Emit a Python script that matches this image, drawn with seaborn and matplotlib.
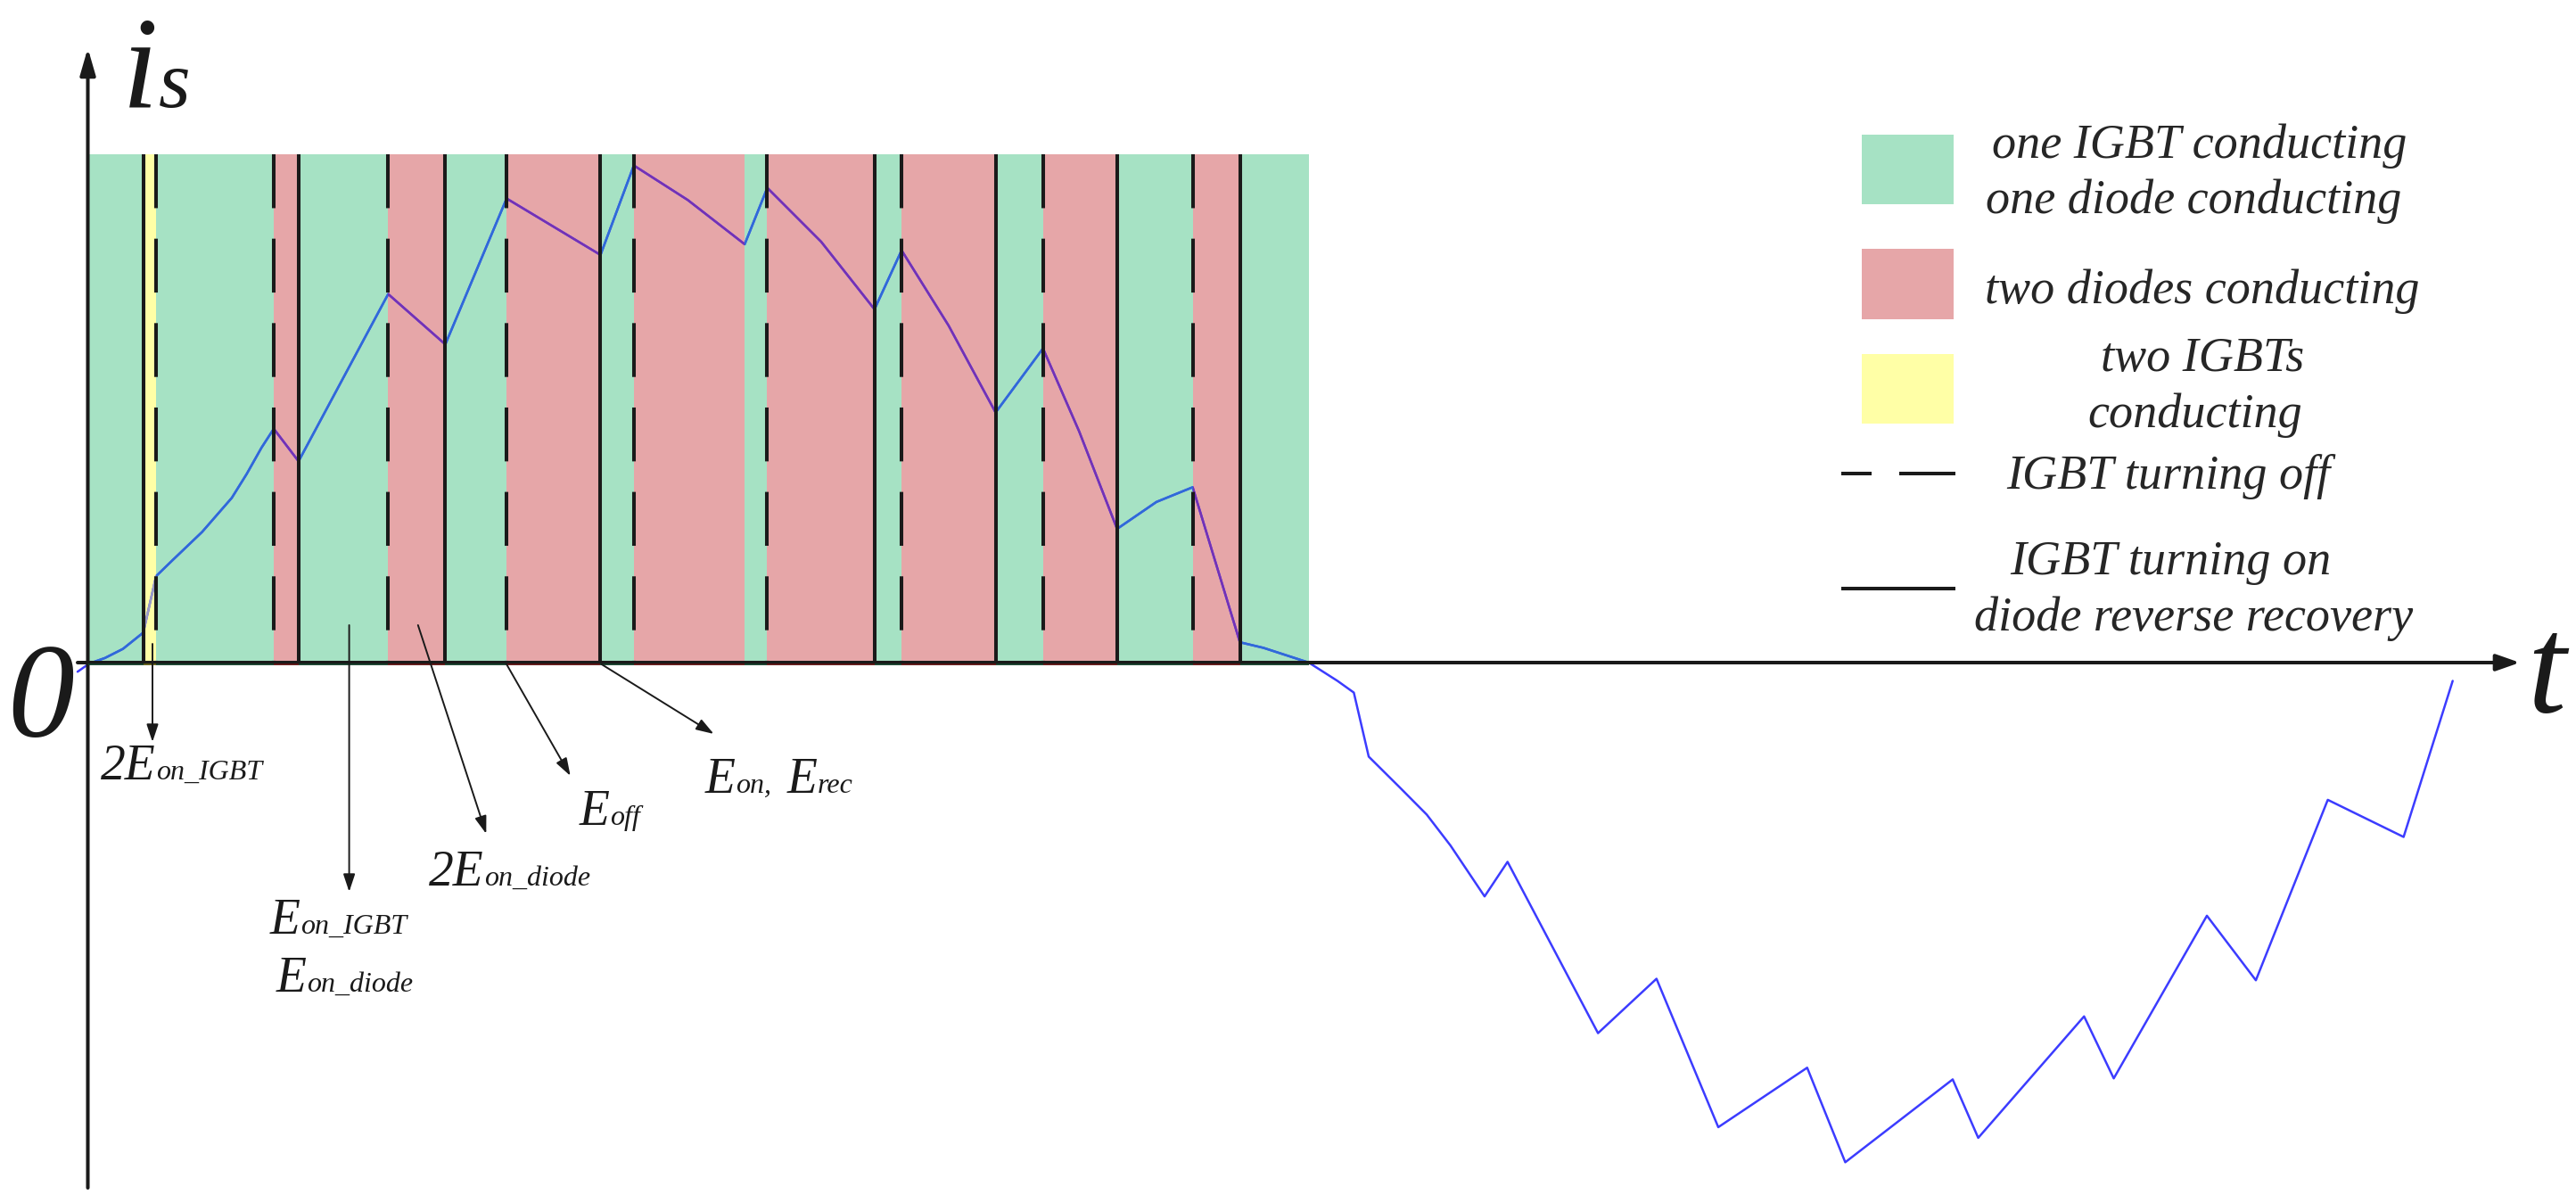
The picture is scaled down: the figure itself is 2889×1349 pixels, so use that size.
import matplotlib
matplotlib.use("Agg")
import matplotlib.pyplot as plt
from matplotlib.path import Path
from matplotlib.patches import Rectangle
import numpy as np
import pandas as pd
import seaborn as sns

# ------------------------------------------------------------------ data
# phase current i_s (arbitrary units, shaded band top = 100) vs time (ms)
time_ms = [-0.084, 0.011, 0.140, 0.288, 0.454, 0.559, 0.692, 0.936, 1.179, 1.301,
           1.423, 1.523, 1.726, 2.460, 2.928, 3.430, 4.199, 4.472, 4.914, 5.380,
           5.565, 6.006, 6.443, 6.665, 7.050, 7.435, 7.823, 8.119, 8.430, 8.752,
           9.049, 9.436, 9.629, 10.000, 10.235, 10.369, 10.491, 10.747, 10.966, 11.161,
           11.440, 11.628, 12.369, 12.848, 13.354, 14.082, 14.394, 15.274, 15.483, 16.350,
           16.593, 17.356, 17.757, 18.346, 18.967, 19.369]
current_a = [-1.8, -0.2, 0.9, 2.7, 5.9, 17.0, 20.1, 25.7, 32.4, 37.1,
             42.3, 46.0, 39.6, 72.5, 62.6, 91.3, 80.2, 97.8, 91.0, 82.3,
             93.4, 82.8, 69.5, 81.1, 66.3, 49.2, 61.8, 45.5, 26.3, 31.6,
             34.5, 4.0, 2.9, 0.0, -3.6, -5.9, -18.5, -24.6, -29.9, -36.0,
             -46.0, -39.2, -72.9, -62.2, -91.4, -79.7, -98.3, -82.0, -93.5, -69.6,
             -81.8, -49.8, -62.5, -27.0, -34.3, -3.6]

# conduction-state intervals of the positive half cycle
region_edges_ms = [0.0, 0.454, 0.559, 1.523, 1.726, 2.460, 2.928, 3.430, 4.199, 4.472,
                   5.380, 5.563, 6.443, 6.665, 7.435, 7.823, 8.430, 9.049, 9.436, 10.0]
region_states = ["G", "Y", "G", "R", "G", "R", "G", "R", "G", "R",
                 "G", "R", "G", "R", "G", "R", "G", "R", "G"]
band_top = 100.0

# switching instants
turn_on_ms = [0.454, 1.726, 2.928, 4.199, 6.443, 7.435, 8.430, 9.436]
turn_off_ms = [0.559, 1.523, 2.460, 3.430, 4.472, 5.563, 6.665, 7.823, 9.049]

legend_state_text = {
    "G": ["one IGBT conducting", "one diode conducting"],
    "R": ["two diodes conducting"],
    "Y": ["two IGBTs", "conducting"],
}
legend_line_text = {
    "off": ["IGBT turning off"],
    "on": ["IGBT turning on", "diode reverse recovery"],
}

# ------------------------------------------------------------------ styles / layout
W, H = 2889, 1349
ORIGIN_PX = (98.5, 743.0)
PX_PER_MS = 136.93
PX_PER_A = 5.7

FILL = {"G": "#a6e2c4", "R": "#e6a6a8", "Y": "#ffffa6"}
AXIS_TINT = {"G": "#123d28", "R": "#5c1010", "Y": "#5c5a12"}
CURVE_BASE = "#3c3cff"
CURVE_TINT = {"G": "#2f6bd8", "R": "#7531b4", "Y": "#9c9cc4"}
LW_SWITCH = 2.9


def t_of(px):
    return (px - ORIGIN_PX[0]) / PX_PER_MS


def i_of(py):
    return (ORIGIN_PX[1] - py) / PX_PER_A


sns.set_theme(style="white")
plt.rcParams["font.family"] = ["Liberation Serif", "DejaVu Serif"]
plt.rcParams["font.style"] = "italic"

fig = plt.figure(figsize=(W / 100, H / 100), dpi=100)
fig.patch.set_facecolor("white")
ax = fig.add_axes([0, 0, 1, 1])
ax.set_xlim(t_of(0), t_of(W))
ax.set_ylim(i_of(H), i_of(0))
ax.axis("off")

# shaded conduction states
lefts = np.array(region_edges_ms[:-1])
rights = np.array(region_edges_ms[1:])
ax.bar(lefts, [band_top] * len(lefts), width=rights - lefts, align="edge",
       color=[FILL[s] for s in region_states], linewidth=0, zorder=1)

# current curve
df = pd.DataFrame({"time_ms": time_ms, "current_a": current_a})
sns.lineplot(data=df, x="time_ms", y="current_a", sort=False, estimator=None,
             color=CURVE_BASE, lw=1.8, ax=ax, zorder=2)
for state in ["G", "R", "Y"]:
    rects = [Path([(a, 0), (b, 0), (b, band_top), (a, band_top), (a, 0)], closed=True)
             for a, b, s in zip(lefts, rights, region_states) if s == state]
    clip = Path.make_compound_path(*rects)
    sns.lineplot(data=df, x="time_ms", y="current_a", sort=False, estimator=None,
                 color=CURVE_TINT[state], lw=1.8, ax=ax, zorder=3)
    ax.lines[-1].set_clip_path(clip, ax.transData)

# axes with arrows
ax.annotate("", xy=(t_of(2826), 0), xytext=(t_of(87), 0),
            arrowprops=dict(arrowstyle="-|>,head_length=0.8,head_width=0.28",
                            lw=2.9, color="k", shrinkA=0, shrinkB=0, mutation_scale=20),
            zorder=5)
ax.annotate("", xy=(0, i_of(54)), xytext=(0, i_of(1332)),
            arrowprops=dict(arrowstyle="-|>,head_length=0.9,head_width=0.26",
                            lw=2.9, color="k", shrinkA=0, shrinkB=0, mutation_scale=20),
            zorder=5)
# axis seen through the tinted bands
ax.hlines(np.full(len(lefts), i_of(744.5)), lefts, rights,
          colors=[AXIS_TINT[s] for s in region_states], lw=1.3, zorder=6)

# switching lines
ax.vlines(turn_on_ms, band_top, 0, colors="k", lw=LW_SWITCH, zorder=7)
ax.vlines(turn_off_ms, band_top, 0, colors="k", lw=LW_SWITCH,
          linestyles=[(0, (15, 8.5))], zorder=7)

# ------------------------------------------------------------------ overlay (pixel layout)
ov = fig.add_axes([0, 0, 1, 1])
ov.set_xlim(0, W)
ov.set_ylim(H, 0)
ov.axis("off")
ov.patch.set_alpha(0)

renderer = fig.canvas.get_renderer()


def rich(x, y, parts):
    cur = x
    for s, size in parts:
        t = ov.text(cur, y, s, fontsize=size, va="baseline", ha="left",
                    fontstyle="italic", color="k")
        cur += t.get_window_extent(renderer).width


# axis labels
rich(137, 120, [("i", 105), ("s", 66)])
ov.text(46, 826, "0", fontsize=108, ha="center", va="baseline", color="k")
ov.text(2856, 798, "t", fontsize=112, ha="center", va="baseline", color="k")

# legend
LEG_FS = 39
for (state, y0) in [("G", 150.6), ("R", 279.0), ("Y", 396.5)]:
    ov.add_patch(Rectangle((2088, y0), 103, 78.5, color=FILL[state], lw=0))
leg_pos = {"G": [(2467, 176.7), (2460, 238.9)],
           "R": [(2470, 339.6)],
           "Y": [(2470, 415.8), (2462, 479.3)]}
for state in ["G", "R", "Y"]:
    for txt, (cx, by) in zip(legend_state_text[state], leg_pos[state]):
        ov.text(cx, by, txt, fontsize=LEG_FS, ha="center", va="baseline")
ov.plot([2065, 2099], [531, 531], color="k", lw=2.9, solid_capstyle="butt")
ov.plot([2130, 2193], [531, 531], color="k", lw=2.9, solid_capstyle="butt")
ov.plot([2065, 2193], [660.4, 660.4], color="k", lw=2.9, solid_capstyle="butt")
for txt, (cx, by) in zip(legend_line_text["off"], [(2432, 547.7)]):
    ov.text(cx, by, txt, fontsize=LEG_FS, ha="center", va="baseline")
for txt, (cx, by) in zip(legend_line_text["on"], [(2434, 643.8), (2460, 707.2)]):
    ov.text(cx, by, txt, fontsize=LEG_FS, ha="center", va="baseline")

# energy annotations
arrow_kw = dict(arrowstyle="-|>,head_length=0.6,head_width=0.2", lw=1.4, color="k",
                shrinkA=0, shrinkB=0, mutation_scale=20)
for start, end in [((171, 722), (171, 832)),
                   ((391.6, 701), (391.6, 1000)),
                   ((468.8, 701), (545.3, 935)),
                   ((567.6, 744), (639.7, 870)),
                   ((674.8, 745), (800.5, 823))]:
    ov.annotate("", xy=end, xytext=start, arrowprops=arrow_kw)

BIG, SUB = 40, 23
rich(113, 874, [("2E", BIG), ("on_IGBT", SUB)])
rich(303, 1047, [("E", BIG), ("on_IGBT", SUB)])
rich(310, 1112, [("E", BIG), ("on_diode", SUB)])
rich(481, 993, [("2E", BIG), ("on_diode", SUB)])
rich(650, 925, [("E", BIG), ("off", SUB)])
rich(791, 889, [("E", BIG), ("on,", SUB)])
rich(883, 889, [("E", BIG), ("rec", SUB)])

fig.savefig("out.png", dpi=100, facecolor="white")
